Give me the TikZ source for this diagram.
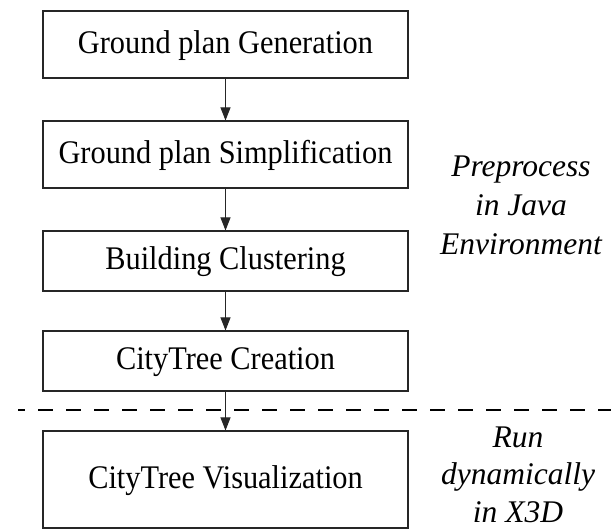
\documentclass[tikz,border=0pt]{standalone}
\usepackage{fontspec}
\usepackage{graphicx}
\setmainfont{Liberation Serif}
\usetikzlibrary{arrows.meta}
% slightly condensed upright label text
\newcommand{\narrowtext}[1]{\scalebox{0.92}[1]{#1}}
\begin{document}
\begin{tikzpicture}[x=1pt,y=-1pt,
  stepbox/.style={draw=black!85, line width=1.1pt, minimum width=365pt, inner sep=0pt,
    text height=24pt, text depth=6pt, font=\fontsize{33}{36}\selectfont},
  flow/.style={draw=black!85, line width=1.1pt, -{Triangle[length=13pt,width=10pt]}},
  note/.style={align=center, inner sep=0pt, anchor=base, font=\fontsize{31.5}{39}\selectfont\itshape},
  divider/.style={line width=1.8pt, dash pattern=on 15pt off 13pt, dash phase=8pt}]
  \useasboundingbox (0,0) rectangle (611,529);

  % processing steps
  \node[stepbox, minimum height=67pt] (gen)  at (225.5,44.5)  {\narrowtext{Ground plan Generation}};
  \node[stepbox, minimum height=67pt] (simp) at (225.5,154.5) {\narrowtext{Ground plan Simplification}};
  \node[stepbox, minimum height=60pt] (clus) at (225.5,261)   {\narrowtext{Building Clustering}};
  \node[stepbox, minimum height=60pt] (tree) at (225.5,361)   {\narrowtext{CityTree Creation}};
  \node[stepbox, minimum height=97pt] (vis)  at (225.5,479.5) {\narrowtext{CityTree Visualization}};

  % boundary between preprocessing and runtime
  \coordinate (dl) at (18,410);
  \coordinate (dr) at (611,410);
  \draw[divider] (dl) -- (dr);

  % flow arrows
  \draw[flow] (gen.south)  -- (simp.north);
  \draw[flow] (simp.south) -- (clus.north);
  \draw[flow] (clus.south) -- (tree.north);
  \draw[flow] (tree.south) -- (vis.north);

  % stage annotations (base anchor sits on the last line)
  \node[note] (pre) at (521,255) {Preprocess\\in Java\\Environment};
  \node[note, font=\fontsize{31.5}{37.5}\selectfont\itshape] (run) at (518,522) {Run\\dynamically\\in X3D};
\end{tikzpicture}
\end{document}
